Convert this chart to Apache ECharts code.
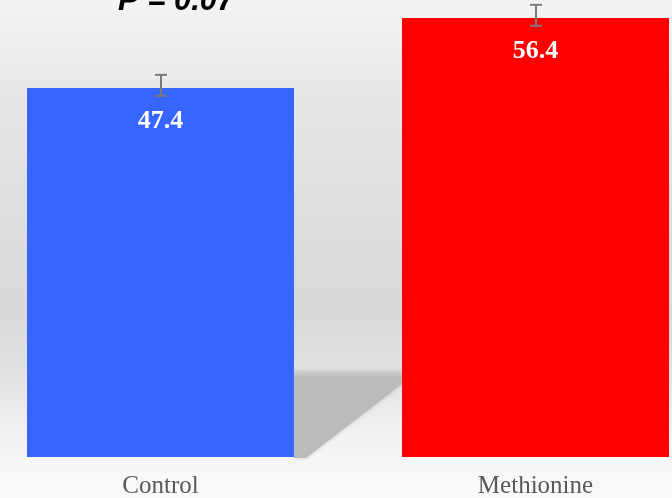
<!DOCTYPE html>
<html>
<head>
<meta charset="utf-8">
<script src="https://cdn.jsdelivr.net/npm/echarts@6/dist/echarts.min.js"></script>
<style>html,body{margin:0;padding:0;background:#f3f3f3}#c{width:672px;height:498px}</style>
</head>
<body>
<div id="c"></div>
<script>
const categories = ['Control', 'Methionine'];
const values = [47.4, 56.4];
const errUp = [1.7, 1.7];
const errDown = [1.0, 1.0];
const barColors = ['#3666ff', '#ff0000'];
const titleText = 'P = 0.07';

const chart = echarts.init(document.getElementById('c'));
chart.setOption({
  animation: false,
  title: {
    text: titleText, left: 113, top: -19,
    textStyle: { fontFamily: 'Liberation Sans', fontWeight: 'bold', fontStyle: 'italic', fontSize: 31, color: '#000' }
  },
  graphic: [
    { type: 'rect', z: -10, shape: { x: 0, y: 0, width: 672, height: 498 },
      style: { fill: new echarts.graphic.LinearGradient(0, 0, 0, 1, [
        { offset: 0, color: '#f4f4f4' },
        { offset: 0.2, color: '#e7e7e7' },
        { offset: 0.5, color: '#dcdcdc' },
        { offset: 0.63, color: '#d9d9d9' },
        { offset: 0.75, color: '#e2e2e2' },
        { offset: 0.85, color: '#efefef' },
        { offset: 0.92, color: '#f7f7f7' },
        { offset: 1, color: '#fafafa' }
      ]) } },
    { type: 'polygon', z: -5, shape: { points: [[294, 368], [402, 368], [402, 384], [306, 458], [294, 458]] },
      style: { fill: new echarts.graphic.LinearGradient(0, 0, 0, 1, [
        { offset: 0, color: 'rgba(187,187,187,0)' },
        { offset: 0.12, color: 'rgba(187,187,187,1)' },
        { offset: 1, color: 'rgba(187,187,187,1)' }
      ]), shadowBlur: 4, shadowColor: 'rgba(160,160,160,0.5)' } }
  ],
  grid: { left: -27, top: -10, width: 750, height: 467, containLabel: false, outerBoundsMode: 'none' },
  xAxis: {
    type: 'category', data: categories,
    axisLine: { show: false }, axisTick: { show: false },
    axisLabel: { fontFamily: 'Liberation Serif', fontSize: 25, color: '#595959', margin: 17 }
  },
  yAxis: { type: 'value', min: 0, max: 60, show: false, splitLine: { show: false } },
  series: [
    {
      type: 'bar', barWidth: 267,
      data: values.map((v, i) => ({ value: v, itemStyle: { color: barColors[i] } })),
      label: {
        show: true, position: 'insideTop', distance: 20,
        fontFamily: 'Liberation Serif', fontWeight: 'bold', fontSize: 26, color: '#fff'
      },
      z: 2
    },
    {
      type: 'custom', z: 5,
      data: values.map((v, i) => [i, v + errUp[i], v - errDown[i]]),
      renderItem: function (params, api) {
        const hi = api.coord([api.value(0), api.value(1)]);
        const lo = api.coord([api.value(0), api.value(2)]);
        const x = Math.round(hi[0]);
        const st = { stroke: '#7a7a7a', lineWidth: 2 };
        return { type: 'group', children: [
          { type: 'line', shape: { x1: x, y1: hi[1], x2: x, y2: lo[1] }, style: st },
          { type: 'line', shape: { x1: x - 6, y1: hi[1], x2: x + 6, y2: hi[1] }, style: st },
          { type: 'line', shape: { x1: x - 6, y1: lo[1], x2: x + 6, y2: lo[1] }, style: st }
        ] };
      }
    }
  ]
});
</script>
</body>
</html>
